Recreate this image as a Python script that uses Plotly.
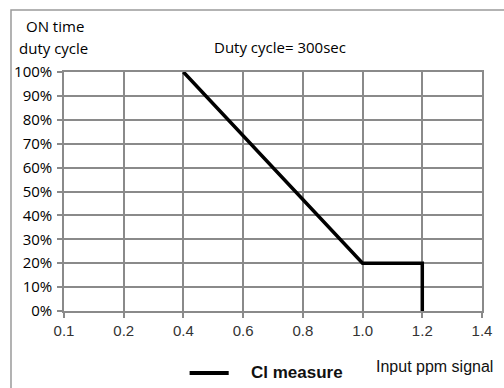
import plotly.graph_objects as go

# Input signal categories on the x axis (evenly spaced labels)
x_categories = ["0.1", "0.2", "0.4", "0.6", "0.8", "1.0", "1.2", "1.4"]
# Cl measure curve: input ppm signal -> ON time duty cycle (%)
signal_ppm = ["0.4", "1.0", "1.2", "1.2"]
duty_pct = [100, 20, 20, 0]
y_ticks = list(range(0, 101, 10))
y_tick_labels = [f"{v}%" for v in y_ticks]

font_main = "Open Sans, Noto Sans, sans-serif"
font_arial = "Liberation Sans, Arial, sans-serif"
grid_col = "#8a8a8a"

fig = go.Figure()
fig.add_trace(go.Scatter(
    x=signal_ppm, y=duty_pct, mode="lines",
    line=dict(color="black", width=3.5),
    name="Cl measure", showlegend=False,
))

fig.update_layout(
    width=504, height=388,
    margin=dict(l=64, r=14, t=72, b=77),
    paper_bgcolor="white", plot_bgcolor="white",
    font=dict(family=font_main, size=15, color="#111"),
)

fig.update_xaxes(
    type="category", categoryorder="array", categoryarray=x_categories,
    range=[0, 7], showgrid=True, gridcolor=grid_col, gridwidth=1.5,
    showline=True, linecolor=grid_col, linewidth=1.5,
    ticks="outside", ticklen=5, tickcolor=grid_col, tickwidth=1.5,
    tickfont=dict(family=font_arial, size=15, color="#333"),
    mirror=True, zeroline=False,
)
fig.update_yaxes(
    range=[0, 100], tickvals=y_ticks, ticktext=y_tick_labels,
    showgrid=True, gridcolor=grid_col, gridwidth=1.5,
    showline=True, linecolor=grid_col, linewidth=1.5,
    ticks="outside", ticklen=5, tickcolor=grid_col, tickwidth=1.5,
    tickfont=dict(family=font_main, size=15, color="#000"),
    ticklabelstandoff=2,
    mirror=True, zeroline=False,
)

# Outer frame around the whole chart
fig.add_shape(type="rect", xref="paper", yref="paper",
              x0=-0.1268, x1=1.1, y0=-0.5, y1=1.259,
              line=dict(color="#9a9a9a", width=1.5), layer="below")

# Legend drawn by hand: sample line and bold label
fig.add_shape(type="line", xref="paper", yref="paper",
              x0=0.3005, x1=0.394, y0=-0.259, y1=-0.259,
              line=dict(color="black", width=4))
fig.add_annotation(text="<b>Cl measure</b>", xref="paper", yref="paper",
                   x=0.443, y=-0.259, xanchor="left", yanchor="middle",
                   showarrow=False, font=dict(family=font_arial, size=17, color="#111"))

fig.add_annotation(text="ON time", xref="paper", yref="paper",
                   x=-0.096, y=1.192, xanchor="left", yanchor="middle",
                   showarrow=False, font=dict(family=font_main, size=15, color="#000"))
fig.add_annotation(text="duty cycle", xref="paper", yref="paper",
                   x=-0.113, y=1.100, xanchor="left", yanchor="middle",
                   showarrow=False, font=dict(family=font_main, size=15, color="#000"))
fig.add_annotation(text="Duty cycle= 300sec", xref="paper", yref="paper",
                   x=0.516, y=1.105, xanchor="center", yanchor="middle",
                   showarrow=False, font=dict(family=font_main, size=15, color="#000"))
fig.add_annotation(text="Input ppm signal", xref="paper", yref="paper",
                   x=1.031, y=-0.234, xanchor="right", yanchor="middle",
                   showarrow=False, font=dict(family=font_arial, size=16, color="#111"))

fig.write_html("out.html")
